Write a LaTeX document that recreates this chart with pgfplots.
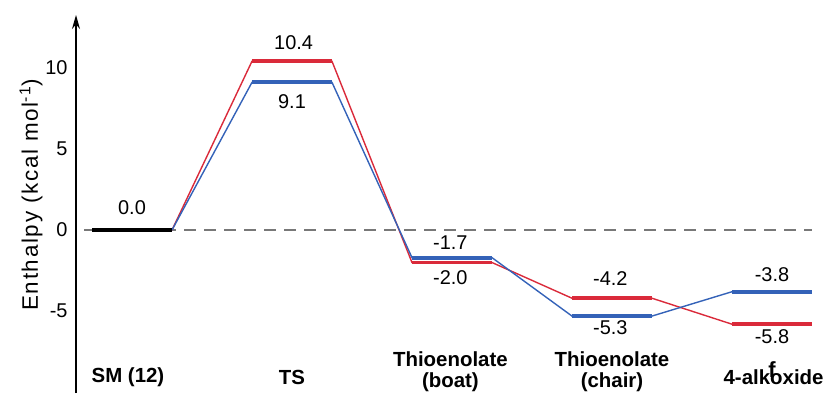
\documentclass[border=0pt]{standalone}
\usepackage{pgfplots}
\pgfplotsset{compat=1.18}
\usepackage{fontspec}
\setmainfont{Liberation Sans}
\newfontfamily\ylabfont[LetterSpace=7.5]{Liberation Sans}
\usetikzlibrary{arrows.meta}
\definecolor{myred}{RGB}{218,42,58}
\definecolor{myblue}{RGB}{52,98,184}
\definecolor{dashgray}{RGB}{120,120,120}
\newcommand{\nf}{\fontsize{20}{21}\selectfont}
\newcommand{\cf}{\fontsize{20.5}{21}\selectfont\bfseries}
\begin{document}
\begin{tikzpicture}[x=1bp,y=1bp]
\path (0,0) rectangle (827,396);
\node[rotate=90,font=\ylabfont\fontsize{22.5}{24}\selectfont] at (31,201) {Enthalpy (kcal mol\textsuperscript{-1})};
\begin{axis}[
  at={(76bp,3bp)}, anchor=south west,
  scale only axis, width=751bp, height=378bp,
  xmin=-0.35, xmax=4.344, ymin=-10.04, ymax=13.25,
  axis x line=none, axis y line=left,
  y axis line style={line width=1.6bp, -{Stealth[length=14bp,width=8bp]}},
  ytick={-5,0,5,10}, major tick length=0pt,
  /pgf/number format/assume math mode=true,
  yticklabel style={font=\fontsize{20}{24}\selectfont, xshift=-5bp},
  clip=false,
]
% zero reference
\addplot[dashgray, line width=2.5bp, dash pattern=on 12bp off 8bp] coordinates {(-0.3,0) (4.25,0)};
% connectors
\addplot[myred, line width=1.4bp] coordinates {(0.25,0) (0.75,10.4) (1.25,10.4) (1.75,-2.0) (2.25,-2.0) (2.75,-4.2) (3.25,-4.2) (3.75,-5.8) (4.25,-5.8)};
\addplot[myblue, line width=1.4bp] coordinates {(0.25,0) (0.75,9.1) (1.25,9.1) (1.75,-1.7) (2.25,-1.7) (2.75,-5.3) (3.25,-5.3) (3.75,-3.8) (4.25,-3.8)};
% levels
\addplot[black, line width=4.5bp] coordinates {(-0.25,0) (0.25,0)};
\addplot[myred, line width=3.8bp] coordinates {(0.75,10.4) (1.25,10.4)};
\addplot[myblue, line width=3.8bp] coordinates {(0.75,9.1) (1.25,9.1)};
\addplot[myblue, line width=3.8bp] coordinates {(1.75,-1.7) (2.25,-1.7)};
\addplot[myred, line width=3.8bp] coordinates {(1.75,-2.0) (2.25,-2.0)};
\addplot[myred, line width=3.8bp] coordinates {(2.75,-4.2) (3.25,-4.2)};
\addplot[myblue, line width=3.8bp] coordinates {(2.75,-5.3) (3.25,-5.3)};
\addplot[myblue, line width=3.8bp] coordinates {(3.75,-3.8) (4.25,-3.8)};
\addplot[myred, line width=3.8bp] coordinates {(3.75,-5.8) (4.25,-5.8)};
% value labels
\node[font=\nf] at (axis cs:0,1.36) {0.0};
\node[font=\nf] at (axis cs:1.01,11.52) {10.4};
\node[font=\nf] at (axis cs:1,7.89) {9.1};
\node[font=\nf] at (axis cs:1.99,-0.80) {-1.7};
\node[font=\nf] at (axis cs:1.99,-2.96) {-2.0};
\node[font=\nf] at (axis cs:2.99,-2.96) {-4.2};
\node[font=\nf] at (axis cs:2.99,-6.04) {-5.3};
\node[font=\nf] at (axis cs:4,-2.77) {-3.8};
\node[font=\nf] at (axis cs:4,-6.59) {-5.8};
% category labels
\node[font=\cf] at (axis cs:-0.025,-9.06) {SM (12)};
\node[font=\cf] at (axis cs:1,-9.06) {TS};
\node[font=\cf, align=center] at (axis cs:1.99,-8.75) {Thioenolate\\(boat)};
\node[font=\cf, align=center] at (axis cs:3,-8.75) {Thioenolate\\(chair)};
\node[font=\cf] at (axis cs:4.01,-9.06) {4-alkoxide};
\node[font=\fontsize{22}{22}\selectfont\bfseries, anchor=base, inner sep=0pt] at (axis cs:4.0,-9.06) {f};
\end{axis}
\end{tikzpicture}
\end{document}
